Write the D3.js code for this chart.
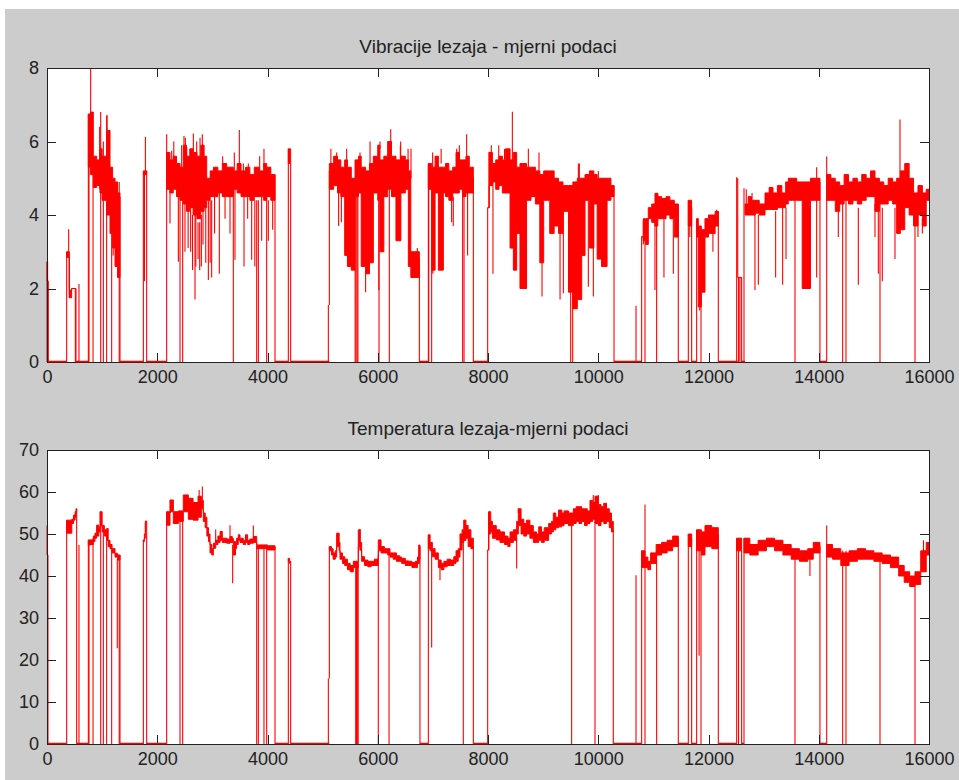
<!DOCTYPE html>
<html>
<head>
<meta charset="UTF-8">
<title>Vibracije i temperatura lezaja</title>
<script src="https://d3js.org/d3.v7.min.js"></script>
<style>
  body { margin: 0; background: #fff; }
  svg { display: block; font-family: 'Liberation Sans', Arial, sans-serif; }
  .tick text { font-size: 18px; fill: #222; }
  .tick line { stroke: #222; }
  .title { font-size: 19px; fill: #222; }
</style>
</head>
<body>
<svg id="fig" width="959" height="780"></svg>
<script>
// ---- data ----
const xTicks = [0, 2000, 4000, 6000, 8000, 10000, 12000, 14000, 16000];
const vibTicks = [0, 2, 4, 6, 8];
const tempTicks = [0, 10, 20, 30, 40, 50, 60, 70];
const vibTitle = 'Vibracije lezaja - mjerni podaci';
const tempTitle = 'Temperatura lezaja-mjerni podaci';

// runs of signal: [sample, low, high] held until the next row
const vibRuns = [
  [[0,2.2,2.73],[12,2.2,2.2],[24,2.2,2.2]],
  [[357,2.85,3.0],[405,1.75,1.95],[447,2.0,2.0],[526,2.0,2.0]],
  [[750,5.3,6.75],[790,5.1,6.8],[840,4.75,5.6],[900,4.8,5.5],[961,4.6,5.8],[1000,4.4,5.6],[1082,4.0,6.3],[1143,3.5,5.3],[1190,3.1,5.0],[1234,2.6,4.9],[1280,2.3,4.6],[1324,2.3,4.6]],
  [[1748,5.1,5.2],[1808,5.1,5.2]],
  [[2171,4.7,5.7],[2230,4.6,5.5],[2290,4.7,5.6],[2350,4.5,5.4],[2413,4.4,5.3],[2473,4.3,5.9],[2530,4.1,5.6],[2590,4.2,5.8],[2650,4.0,5.7],[2720,3.9,5.6],[2790,4.1,5.9],[2850,4.2,5.6],[2897,4.4,5.0],[2960,4.5,5.2],[3020,4.5,5.3],[3100,4.6,5.2],[3180,4.5,5.4],[3260,4.5,5.3],[3380,4.7,5.2],[3450,4.6,5.4],[3520,4.5,5.2],[3600,4.5,5.3],[3680,4.4,5.1],[3760,4.5,5.3],[3850,4.5,5.2],[3930,4.4,5.4],[3985,4.5,5.3],[4060,4.4,5.1],[4136,4.4,5.1]],
  [[4378,5.4,5.8],[4420,5.4,5.8]],
  [[5122,4.7,5.4],[5200,4.8,5.6],[5270,4.6,5.5],[5330,4.5,5.3],[5400,2.9,5.5],[5450,2.6,5.3],[5520,2.5,5.0],[5588,4.5,5.5],[5650,4.6,5.6],[5700,2.6,5.3],[5780,2.4,5.2],[5850,2.7,5.4],[5920,4.6,5.6],[6000,4.4,5.9],[6040,3.0,5.5],[6110,4.5,5.6],[6180,4.7,6.0],[6250,4.5,5.6],[6330,3.3,5.5],[6420,4.6,5.6],[6500,4.7,5.5],[6555,2.6,5.2],[6600,2.3,3.0],[6755,2.3,3.0]],
  [[6918,4.7,5.4],[6980,2.5,5.3],[7040,4.6,5.6],[7100,2.5,5.3],[7190,4.6,5.3],[7230,4.5,5.4],[7290,4.4,5.2],[7360,4.6,5.3],[7420,4.6,5.7],[7480,4.7,5.5],[7540,4.5,5.5],[7600,4.6,5.6],[7660,4.6,5.3],[7734,4.6,5.3]],
  [[7994,4.2,4.2],[8020,4.8,5.7],[8080,4.9,5.4],[8140,4.7,5.5],[8200,4.8,5.6],[8260,4.6,5.5],[8320,4.6,5.8],[8400,3.1,5.5],[8460,2.5,5.7],[8520,3.5,5.3],[8580,2.0,5.4],[8700,4.4,5.3],[8780,4.5,5.3],[8860,4.3,5.2],[8940,2.7,5.1],[9010,4.4,5.2],[9120,3.5,5.2],[9200,3.7,5.0],[9280,3.5,4.9],[9360,4.1,4.8],[9460,1.9,4.8],[9540,1.45,4.9],[9620,1.7,5.0],[9700,2.9,5.0],[9760,4.4,5.1],[9840,3.1,5.2],[9920,4.3,5.1],[9980,2.8,5.0],[10060,2.6,5.0],[10160,4.4,5.0],[10230,4.5,4.8],[10286,4.5,4.8]],
  [[10787,3.4,3.41],[10818,3.3,3.9],[10860,3.2,3.9],[10908,3.9,4.2],[10970,3.8,4.3],[11029,3.7,4.59],[11080,3.9,4.5],[11150,3.9,4.45],[11230,4.0,4.5],[11300,3.9,4.4],[11380,3.4,4.3],[11452,3.4,4.3]],
  [[11634,3.7,4.4],[11694,3.7,4.4]],
  [[11785,3.4,3.9],[11815,1.5,3.7],[11870,1.9,3.6],[11936,3.4,3.9],[12000,3.5,4.0],[12060,3.5,4.0],[12120,3.7,4.1],[12178,3.7,4.1]],
  [[12530,2.3,2.3],[12601,2.3,2.3]],
  [[12662,4.0,4.3],[12720,4.0,4.5],[12780,4.0,4.4],[12850,4.05,4.4],[12920,4.0,4.3],[13025,4.15,4.6],[13100,4.15,4.75],[13170,4.15,4.6],[13250,4.2,4.8],[13330,4.2,4.6],[13400,4.3,4.9],[13448,4.4,5.0],[13520,4.4,5.0],[13600,4.4,4.9],[13700,2.0,4.9],[13850,4.4,5.0],[13930,4.4,5.0],[14022,4.4,5.0]],
  [[14144,4.4,5.1],[14220,4.4,5.0],[14300,4.1,4.9],[14380,4.3,4.8],[14460,4.4,5.1],[14540,4.3,4.9],[14620,4.4,5.0],[14700,4.3,4.9],[14780,4.4,5.1],[14860,4.5,5.0],[14940,4.5,5.2],[15020,4.1,5.0],[15100,4.3,4.9],[15180,4.3,4.8],[15260,4.4,5.0],[15340,4.3,4.9],[15413,3.5,5.0],[15480,3.6,5.2],[15560,4.2,5.4],[15640,4.0,5.0],[15720,3.7,4.6],[15800,4.0,4.8],[15880,3.7,4.6],[15950,4.4,4.7],[16000,4.4,4.7]]
];

// single samples: [sample, from, to]
const vibSpikes = [
  [0,0,2.73],[24,0,2.2],
  [357,0,3.0],[393,2.85,3.61],[405,1.75,2.9],[514,0,2.0],[526,0,2.0],[580,0,2.12],
  [750,0,6.75],[762,0,5.3],[792,5.3,8.0],[835,0,5.5],[955,4.7,6.4],[974,0,6.8],[1022,0,6.0],[1082,0,6.7],[1090,4.0,6.72],[1173,0,4.5],[1200,2.9,4.6],[1310,0,4.9],[1324,0,4.5],
  [1748,0,5.15],[1768,2.2,5.15],[1785,5.1,6.13],[1808,0,5.2],
  [2171,0,6.2],[2231,3.77,4.8],[2262,5.4,5.75],[2300,5.5,6.0],[2383,2.73,4.6],[2413,0,4.8],[2443,5.2,5.9],[2461,0,4.8],[2485,5.5,6.15],[2503,3.0,4.5],[2510,5.5,6.1],[2534,5.5,5.85],[2560,3.1,4.3],[2606,3.0,4.2],[2640,2.5,4.0],[2655,5.5,6.22],[2685,1.7,4.0],[2700,2.6,4.0],[2715,5.5,6.0],[2740,2.8,3.8],[2770,2.5,3.8],[2776,5.5,6.1],[2800,2.6,4.0],[2818,5.5,6.2],[2830,3.2,4.2],[2880,2.7,4.2],
  [2927,2.23,4.4],[2960,2.7,4.4],[2987,2.3,4.4],[3040,3.5,4.5],[3126,2.4,4.6],[3187,5.3,5.6],[3230,3.9,4.5],[3320,3.5,4.6],[3380,0,4.7],[3398,5.1,5.7],[3410,2.78,4.7],[3489,5.3,6.31],[3562,5.1,5.4],[3574,2.6,4.5],[3640,3.9,4.5],[3652,5.2,5.4],[3713,2.78,4.4],[3770,2.6,4.4],[3804,0,4.4],[3834,0,4.4],[3858,5.2,5.6],[3894,3.3,4.5],[3936,5.3,5.8],[3985,0,4.5],[4015,3.3,4.4],[4045,5.1,5.3],[4094,3.6,4.4],[4136,0,5.1],
  [4378,0,5.8],[4420,0,5.4],
  [5104,0,1.55],[5122,1.55,5.2],[5150,5.3,5.8],[5255,5.5,5.7],[5290,3.7,4.6],[5340,3.8,4.5],[5436,5.4,5.8],[5590,0,4.7],[5605,0,4.7],[5625,0,4.7],[5640,0,4.7],[5678,5.5,5.7],[5780,1.9,2.5],[5860,5.3,6.0],[6020,1.96,4.5],[6023,0,4.6],[6041,5.8,6.0],[6210,0,4.7],[6235,5.4,6.33],[6410,5.4,5.9],[6416,5.5,6.0],[6550,5.2,5.8],[6603,5.0,5.8],[6718,2.9,3.1],[6755,0,2.8],
  [6918,0,5.4],[6925,0,5.0],[6978,0,5.0],[6996,5.3,5.7],[7000,2.4,4.6],[7150,5.4,5.8],[7340,3.8,4.5],[7370,3.7,4.5],[7432,5.6,5.8],[7480,5.5,5.9],[7540,0,4.7],[7565,0,4.7],[7613,5.4,6.2],[7630,2.9,4.6],[7734,0,5.0],
  [7994,0,4.2],[8020,4.2,5.72],[8060,5.6,5.9],[8090,2.4,4.9],[8195,5.5,5.9],[8248,5.4,5.6],[8300,5.5,5.8],[8442,5.4,6.81],[8732,5.2,5.8],[8925,5.1,5.7],[8980,1.78,4.3],[9307,1.7,4.2],[9367,1.87,4.2],[9500,0,4.5],[9536,0,4.5],[9640,5.0,5.4],[9657,4.9,5.4],[9820,2.05,4.4],[9911,1.78,4.4],[10002,5.0,5.2],[10286,0,4.8],
  [10685,0,1.53],[10787,0,3.41],[10818,3.2,3.86],[10848,0,3.8],[11029,1.96,3.9],[11059,0,4.0],[11078,4.4,4.59],[11192,2.3,4.0],[11362,2.4,4.0],[11452,0,4.3],
  [11634,0,4.4],[11660,3.4,4.2],[11694,0,4.2],
  [11785,0,3.9],[11840,1.4,2.0],[11864,0,3.0],[12080,3.0,3.5],[12148,4.0,4.14],[12178,0,4.1],
  [12511,0,5.03],[12530,2.3,5.0],[12545,0,2.3],[12570,0,2.3],[12601,0,2.3],
  [12644,0,4.73],[12685,4.3,4.7],[12790,4.4,4.6],[12843,1.96,4.0],[12904,2.1,4.0],[13218,2.3,4.1],[13345,2.1,4.2],[13406,2.8,4.2],[13569,0,4.4],[13962,5.0,5.3],[13962,2.3,4.4],[14022,0,4.9],
  [14144,0,5.59],[14355,3.4,4.2],[14434,0,4.4],[14494,0,4.4],[14718,2.1,4.2],[15020,3.4,4.3],[15081,2.4,4.2],[15111,0,4.3],[15153,2.2,4.2],[15383,2.8,4.2],[15474,4.9,6.6],[15610,5.0,5.4],[15746,0,4.0],[15800,3.4,4.0],[15880,3.5,3.9]
];

const tempRuns = [
  [[0,45,52],[10,45,45],[18,45,45]],
  [[357,50.2,53.3],[450,52.5,53.5],[480,53.3,54.5],[510,54,55.3],[526,55.3,56],[538,55.3,56]],
  [[750,47.4,48.6],[800,47.5,48.6],[840,48.2,49.5],[870,49,50.2],[900,49.5,52.1],[940,50.5,51.5],[961,52,55.3],[1000,50.5,52],[1040,49.5,51],[1082,48.5,51.3],[1110,47,48.5],[1143,46.5,47.5],[1180,45.5,46.5],[1234,44.5,45.4],[1280,43.8,45],[1324,43.8,45]],
  [[1748,48.2,48.6],[1766,49,50],[1784,52.5,53.1],[1808,52.5,53.1]],
  [[2171,52.1,55.3],[2231,55.3,58.1],[2292,52.5,55.3],[2383,53,55.5],[2473,55.3,59.3],[2564,53.5,58.5],[2650,53.3,57.5],[2740,54,59],[2800,56,58],[2836,53,55],[2870,51.5,54],[2900,49.5,51.5],[2930,48.2,50],[2957,45.5,47.5],[2990,45,46.5],[3018,46.6,47.8],[3060,47.5,48.5],[3100,48,49.5],[3140,48.5,50.6],[3180,48,49],[3259,47.8,48.8],[3320,48,49.4],[3360,48,49],[3380,45,48.2],[3420,46.5,48],[3440,47.5,49],[3470,48.5,49.8],[3501,48,49],[3560,47.5,48.5],[3600,48,49.8],[3640,47.5,48.5],[3680,47.8,48.8],[3743,48,49.4],[3804,46.5,47.4],[3900,46.5,47.4],[4000,46.2,47.2],[4136,46.2,47.2]],
  [[4378,43.5,44.2],[4400,43,43.5],[4420,43,43.5]],
  [[5122,46,47],[5160,45,46.5],[5190,44,45.5],[5230,44.5,46],[5254,47,50.2],[5300,46,48],[5315,44,45.5],[5360,43,44.6],[5400,42.5,44],[5450,41.5,43],[5500,41,42.5],[5557,42,43.5],[5647,47,51],[5680,46.2,48],[5708,43.5,44.6],[5760,42.5,43.8],[5820,42.2,43.5],[5880,42.5,43.5],[5940,42.5,44],[6010,46,48.6],[6060,45.5,47],[6120,45.5,46.5],[6180,45,46.5],[6222,44.5,45.5],[6280,44,45.5],[6340,43.5,44.8],[6400,43.5,44.5],[6434,43,44.2],[6500,42.5,43.6],[6560,42.5,43.5],[6620,42,43.2],[6680,42,43.5],[6720,43,44.5],[6755,44,47.4],[6766,44,47.4]],
  [[6918,46.5,49.8],[6950,46,48],[6990,44.6,46.5],[7040,44,45.5],[7099,42,43.8],[7150,41.5,43],[7200,42.2,43.5],[7260,42.5,44],[7320,42.5,43.8],[7380,43,44.6],[7420,43.5,46],[7460,44.5,46.5],[7492,46.2,50],[7530,48,51],[7560,48.5,53.3],[7600,49,52],[7640,47,51],[7690,46.5,49],[7734,46.5,49]],
  [[7994,46.2,46.2],[8012,50,55.3],[8050,50.5,53],[8080,49,52],[8150,48.6,51],[8217,48,50.5],[8300,47.5,49.5],[8360,47,49],[8400,48,50.5],[8460,48.5,51],[8520,50,53],[8550,52,56],[8600,50,53.5],[8650,49.5,52.5],[8700,50,53.3],[8760,49,52],[8822,48,50.5],[8880,48,50],[8920,48.5,51.7],[8970,48,50.5],[9020,48.5,51.5],[9100,50,52.5],[9150,50.5,53],[9185,51,55],[9230,51.5,54],[9280,51.7,55.7],[9340,52,55],[9380,52.5,55.5],[9460,52,55],[9548,52.5,56],[9600,53,56.5],[9650,52.5,56.5],[9700,53,56],[9750,52,56],[9800,52.5,55.5],[9850,53,58],[9900,53.5,57.5],[9941,52.5,59],[10001,52,57],[10050,53,56.5],[10100,52.5,57.3],[10150,53,56],[10200,51.5,55],[10240,50.5,53],[10273,50.5,53]],
  [[10787,42,46],[10848,42,44.5],[10900,41.5,43.5],[10950,43,45.5],[11050,45,47.5],[11150,45.5,48],[11250,46,48.5],[11350,47,49.5],[11452,47,49.5]],
  [[11634,47,50],[11694,47,50]],
  [[11785,46,51],[11870,45,50.5],[11936,47,52],[12060,46.5,51.5],[12178,46.5,51.5]],
  [[12511,46,49],[12601,46,49]],
  [[12644,45.5,49],[12750,45,47.5],[12900,46,48.5],[13050,47,49],[13200,46,48.5],[13350,45,47.5],[13500,44,46.5],[13650,43.5,46],[13800,44,46.5],[13900,45.5,48],[14022,45.5,48]],
  [[14144,44.5,47.5],[14250,44,46.5],[14400,42.5,45.5],[14550,43.5,46],[14700,44,46.5],[14850,44,46],[15000,43.5,45.5],[15150,43,45],[15300,42,44.5],[15450,40,42.5],[15550,38.5,41],[15650,37.5,40],[15746,38,41],[15850,41,46],[15950,45,48],[16000,45,48]]
];

const tempSpikes = [
  [18,0,45],
  [357,0,53.3],[538,0,56],[580,0,47.4],
  [750,0,48.6],[762,0,48],[835,0,49],[974,0,55.3],[1022,0,52],[1082,0,51],[1173,0,47],[1275,22.8,44],[1310,0,45],[1324,0,45],
  [1748,0,48.6],[1808,0,52.5],
  [2171,0,55.3],[2240,55,58.1],[2413,0,53.5],[2461,0,54],[2760,57,60.5],[2818,56,61.3],[3060,48,51.1],[3320,49,52.1],[3368,38.3,47.4],[3743,49,52],[3804,0,47],[3834,0,47],[3936,0,47],[3985,0,47],[4136,0,47],
  [4378,0,44.2],[4420,0,43],
  [5104,0,15.6],[5122,15.6,47],[5600,0,42.5],[5615,0,42.5],[5630,0,43],[5645,0,43],[5680,46,51.2],[6010,0,45],[6205,0,46],[6742,44,47.4],[6766,0,47],
  [6918,0,49.8],[6978,23,48],[7129,39,42],[7552,0,49],[7734,0,47],
  [7994,0,46.2],[8012,46.2,55.3],[8520,41.8,49],[8550,55,56.1],[9517,0,52],[9910,56,59.3],[9941,0,53],[10001,57,59.3],[10273,0,51],
  [10685,0,40.2],[10787,0,46],[10848,0,57],[11059,0,46],[11452,0,49],
  [11634,0,50],[11694,0,49],
  [11785,0,51],[11830,21,46],[11864,0,47],[12178,0,50],
  [12511,0,49],[12545,0,46],[12601,0,46],
  [12644,0,49],[13569,0,46],[13840,40,44],[14022,0,47],
  [14144,0,52],[14434,0,46],[14494,0,46],[15111,0,45],[15746,0,40],[15900,43,48.5]
];

// ---- drawing ----
const svg = d3.select('#fig');
svg.append('rect')
  .attr('x', 5).attr('y', 9)
  .attr('width', 954).attr('height', 771)
  .attr('fill', '#cccccc');

const plotLeft = 47, plotW = 882, plotH = 294;

function drawPanel(top, yMax, yTicks, runs, spikes, title) {
  const x = d3.scaleLinear().domain([0, 16000]).range([plotLeft, plotLeft + plotW]);
  const y = d3.scaleLinear().domain([0, yMax]).range([top + plotH, top]);
  const g = svg.append('g');

  g.append('rect')
    .attr('x', plotLeft).attr('y', top)
    .attr('width', plotW).attr('height', plotH)
    .attr('fill', '#fff');

  // signal
  const area = d3.area()
    .x(d => x(d[0]))
    .y0(d => y(d[1]))
    .y1(d => y(d[2]))
    .curve(d3.curveStepAfter);

  g.append('g').selectAll('path')
    .data(runs)
    .join('path')
    .attr('d', area)
    .attr('fill', '#ff0000')
    .attr('stroke', '#ff0000')
    .attr('stroke-width', 1);

  g.append('g').selectAll('line')
    .data(spikes)
    .join('line')
    .attr('x1', d => x(d[0])).attr('x2', d => x(d[0]))
    .attr('y1', d => y(d[1])).attr('y2', d => y(d[2]))
    .attr('stroke', '#ff0000')
    .attr('stroke-width', 1.1);

  // axes, MATLAB style: ticks inside on all four sides
  const fmt = d3.format('d');
  const axes = [
    g.append('g').attr('transform', `translate(0,${top + plotH})`)
      .call(d3.axisBottom(x).tickValues(xTicks).tickSize(-9).tickPadding(8).tickFormat(fmt)),
    g.append('g').attr('transform', `translate(0,${top})`)
      .call(d3.axisTop(x).tickValues(xTicks).tickSize(-9).tickFormat('')),
    g.append('g').attr('transform', `translate(${plotLeft},0)`)
      .call(d3.axisLeft(y).tickValues(yTicks).tickSize(-9).tickPadding(8).tickFormat(fmt)),
    g.append('g').attr('transform', `translate(${plotLeft + plotW},0)`)
      .call(d3.axisRight(y).tickValues(yTicks).tickSize(-9).tickFormat(''))
  ];
  axes.forEach(a => {
    a.attr('font-family', null).attr('font-size', null);
    a.select('.domain').remove();
    a.selectAll('line').attr('shape-rendering', 'crispEdges');
  });

  g.append('rect')
    .attr('x', plotLeft).attr('y', top)
    .attr('width', plotW).attr('height', plotH)
    .attr('fill', 'none')
    .attr('stroke', '#222')
    .attr('shape-rendering', 'crispEdges');

  // flat zero parts between the runs
  const spans = runs.map(r => [r[0][0], r[r.length - 1][0]]).sort((a, b) => a[0] - b[0]);
  const zeros = [];
  let cur = 0;
  spans.forEach(s => {
    if (s[0] > cur) zeros.push([cur, s[0]]);
    cur = Math.max(cur, s[1]);
  });
  if (cur < 16000) zeros.push([cur, 16000]);

  g.append('g').selectAll('line')
    .data(zeros)
    .join('line')
    .attr('x1', d => x(d[0])).attr('x2', d => x(d[1]))
    .attr('y1', y(0) - 0.5).attr('y2', y(0) - 0.5)
    .attr('stroke', '#ff0000')
    .attr('stroke-width', 1.5);

  g.append('text')
    .attr('class', 'title')
    .attr('x', plotLeft + plotW / 2)
    .attr('y', top - 15)
    .attr('text-anchor', 'middle')
    .text(title);
}

drawPanel(68, 8, vibTicks, vibRuns, vibSpikes, vibTitle);
drawPanel(450, 70, tempTicks, tempRuns, tempSpikes, tempTitle);
</script>
</body>
</html>
